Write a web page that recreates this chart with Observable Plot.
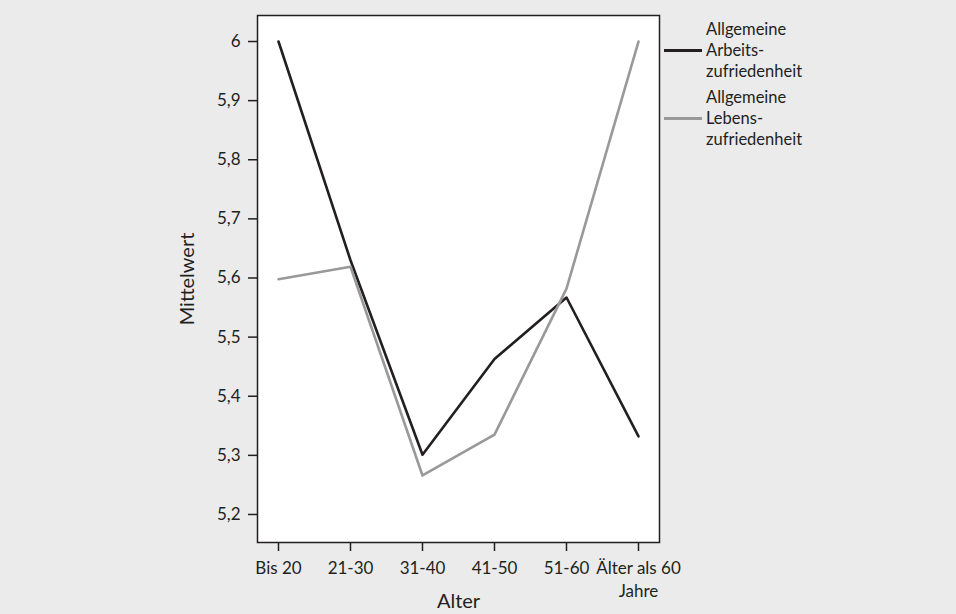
<!DOCTYPE html>
<html>
<head>
<meta charset="utf-8">
<script src="https://cdn.jsdelivr.net/npm/d3@7"></script>
<script src="https://cdn.jsdelivr.net/npm/@observablehq/plot@0.6"></script>
<style>
  html, body { margin: 0; padding: 0; background: #ebebeb; }
  #wrap { position: relative; width: 956px; height: 614px; font-family: Lato, "Open Sans", sans-serif; }
  #legend { position: absolute; left: 664px; top: 19px; font-size: 16.5px; color: #231f20; line-height: 21px; }
  .item { display: flex; align-items: center; margin-bottom: 5px; }
  .sw { width: 38px; height: 0; border-top: 3px solid; margin-right: 4px; }
</style>
</head>
<body>
<div id="wrap"><div id="legend"></div></div>
<script>
const categories = ["Bis 20", "21-30", "31-40", "41-50", "51-60", "Älter als 60\nJahre"];
const seriesNames = ["Allgemeine Arbeits-zufriedenheit", "Allgemeine Lebens-zufriedenheit"];
const legendLines = [["Allgemeine", "Arbeits-", "zufriedenheit"], ["Allgemeine", "Lebens-", "zufriedenheit"]];
const arbeits = [6.0, 5.63, 5.301, 5.463, 5.567, 5.332];
const lebens = [5.598, 5.619, 5.266, 5.335, 5.582, 6.0];
const yTicks = [5.2, 5.3, 5.4, 5.5, 5.6, 5.7, 5.8, 5.9, 6.0];
const colors = ["#231f20", "#999999"];

const data = [];
[arbeits, lebens].forEach((vals, s) => vals.forEach((v, i) => data.push({cat: categories[i], value: v, series: seriesNames[s]})));

const fmt = v => String(+v.toFixed(1)).replace(".", ",");

const chart = Plot.plot({
  width: 956,
  height: 614,
  marginLeft: 257,
  marginRight: 297,
  marginTop: 15,
  marginBottom: 72,
  style: {background: "#ebebeb", fontFamily: "Lato, 'Open Sans', sans-serif", fontSize: "17px", color: "#231f20"},
  x: {type: "point", domain: categories, padding: 0.276},
  y: {domain: [5.1526, 6.044]},
  color: {domain: seriesNames, range: colors},
  marks: [
    Plot.frame({fill: "white", stroke: null}),
    Plot.line(data, {x: "cat", y: "value", z: "series", stroke: "series", strokeWidth: 2.6}),
    Plot.frame({stroke: "#231f20", strokeWidth: 1.5}),
    Plot.axisY({ticks: yTicks, tickFormat: fmt, tickSize: 9, tickPadding: 8, label: null, stroke: "#231f20", strokeWidth: 1.5, fontSize: 17}),
    Plot.axisX({tickSize: 9, tickPadding: 6, label: null, stroke: "#231f20", strokeWidth: 1.5, fontSize: 17, lineHeight: 1.35}),
    Plot.text(["Mittelwert"], {frameAnchor: "left", dx: -70, rotate: -90, textAnchor: "middle", lineAnchor: "middle", fontSize: 20, fill: "#231f20"}),
    Plot.text(["Alter"], {frameAnchor: "bottom", dy: 59, textAnchor: "middle", lineAnchor: "middle", fontSize: 20, fill: "#231f20"})
  ]
});
document.getElementById("wrap").prepend(chart);

const legend = document.getElementById("legend");
legendLines.forEach((lines, i) => {
  const item = document.createElement("div");
  item.className = "item";
  const sw = document.createElement("div");
  sw.className = "sw";
  sw.style.borderColor = colors[i];
  const txt = document.createElement("div");
  txt.innerHTML = lines.join("<br>");
  item.appendChild(sw);
  item.appendChild(txt);
  legend.appendChild(item);
});
</script>
</body>
</html>
